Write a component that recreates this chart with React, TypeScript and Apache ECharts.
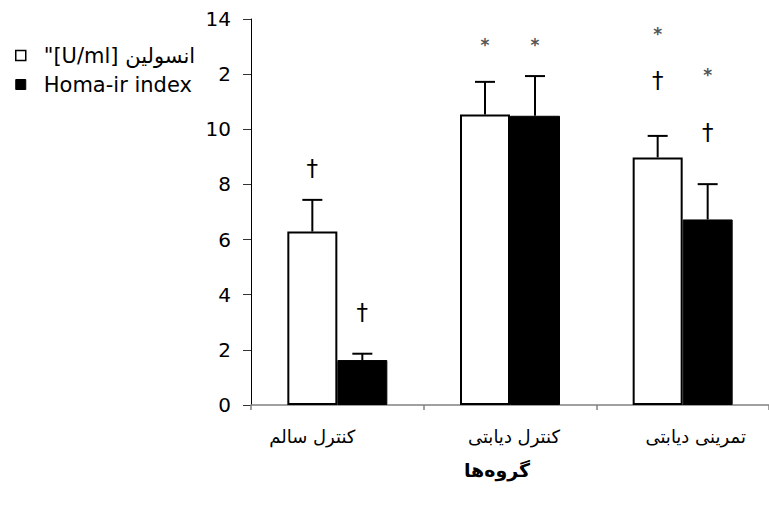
import React, { useEffect, useRef } from "react";
import * as echarts from "echarts";

// ---- data ----
const categories = ["کنترل سالم", "کنترل دیابتی", "تمرینی دیابتی"];
const seriesNames = ['"[U/ml] انسولین', "Homa-ir index"];
const insulin = [6.29, 10.54, 8.98];
const insulinErr = [1.15, 1.18, 0.78];
const homa = [1.63, 10.49, 6.73];
const homaErr = [0.23, 1.44, 1.28];
// [category index, symbol, y position in data units]
const insulinMarks: [number, string, number][] = [
  [0, "†", 8.6],
  [1, "*", 13.1],
  [2, "*", 13.5],
  [2, "†", 11.8],
];
const homaMarks: [number, string, number][] = [
  [0, "†", 3.37],
  [1, "*", 13.1],
  [2, "*", 12.0],
  [2, "†", 9.9],
];
const yTicks = { min: 0, max: 14, interval: 2 };
const xAxisName = "گروه‌ها";

// ---- style ----
const FONT = "DejaVu Sans";
const BAR_W = 50;

function errorSeries(values: number[], errs: number[], dir: number) {
  return {
    type: "custom",
    silent: true,
    z: 5,
    encode: { x: 0, y: [1, 2] },
    data: values.map((v, i) => [i, v, v + errs[i]]),
    renderItem: (params: any, api: any) => {
      const cat = api.value(0);
      const base = api.coord([cat, api.value(1)]);
      const hi = api.coord([cat, api.value(2)]);
      const x = base[0] + (dir * BAR_W) / 2;
      const st = { stroke: "#000", lineWidth: 2 };
      return {
        type: "group",
        children: [
          { type: "line", shape: { x1: x, y1: base[1], x2: x, y2: hi[1] }, style: st },
          { type: "line", shape: { x1: x - 10, y1: hi[1], x2: x + 10, y2: hi[1] }, style: st },
        ],
      };
    },
  };
}

function markSeries(marks: [number, string, number][], dir: number) {
  return {
    type: "custom",
    silent: true,
    z: 6,
    encode: { x: 0, y: 1 },
    data: marks.map((m) => [m[0], m[2]]),
    renderItem: (params: any, api: any) => {
      const p = api.coord([api.value(0), api.value(1)]);
      const sym = marks[params.dataIndex][1];
      const isStar = sym === "*";
      return {
        type: "text",
        x: p[0] + (dir * BAR_W) / 2,
        y: p[1] + (isStar ? 1 : 0),
        style: {
          text: sym,
          fontFamily: FONT,
          fontSize: isStar ? 17 : 23,
          fontWeight: isStar ? "bold" : "normal",
          fill: isStar ? "#555" : "#000",
          align: "center",
          verticalAlign: "middle",
        },
      };
    },
  };
}

export default function App() {
  const ref = useRef<HTMLDivElement>(null);
  useEffect(() => {
    if (!ref.current) return;
    const chart = echarts.init(ref.current, null, { renderer: "svg" });
    chart.setOption({
      animation: false,
      backgroundColor: "#fff",
      textStyle: { fontFamily: FONT },
      grid: { left: 251, top: 19, width: 528, height: 386, containLabel: false },
      legend: {
        orient: "vertical",
        left: 0,
        top: 37,
        z: 10,
        backgroundColor: "#fff",
        padding: [8, 4, 6, 15],
        itemGap: 8,
        itemWidth: 10,
        itemHeight: 10,
        icon: "rect",
        selectedMode: false,
        data: [
          { name: seriesNames[0], itemStyle: { color: "#fff", borderColor: "#000", borderWidth: 1.5 } },
          { name: seriesNames[1], itemStyle: { color: "#000", borderColor: "#000", borderWidth: 1 } },
        ],
        textStyle: {
          fontFamily: FONT,
          fontSize: 21,
          color: "#000",
          lineHeight: 20,
          padding: [0, 0, 0, 13],
          width: 170,
        },
      },
      xAxis: {
        type: "category",
        data: categories,
        name: xAxisName,
        nameLocation: "middle",
        nameGap: 55,
        nameTextStyle: {
          fontFamily: FONT,
          fontSize: 19,
          fontWeight: "bold",
          color: "#000",
          padding: [0, 26, 0, 0],
        },
        axisLine: { lineStyle: { color: "#808080", width: 1.5 } },
        axisTick: { show: true, length: 5, lineStyle: { color: "#808080", width: 1.5 } },
        axisLabel: {
          interval: 0,
          margin: 22,
          color: "#000",
          fontFamily: FONT,
          fontSize: 18,
          formatter: (v: string, i: number) =>
            (i === 0 ? "{a|" : i === 2 ? "{c|" : "{b|") + v + "}",
          rich: {
            a: { fontFamily: FONT, fontSize: 18, color: "#000", padding: [0, 50, 0, 0] },
            b: { fontFamily: FONT, fontSize: 18, color: "#000", padding: [0, 0, 0, 8] },
            c: { fontFamily: FONT, fontSize: 18, color: "#000", padding: [0, 0, 0, 26] },
          },
        },
        splitLine: { show: false },
      },
      yAxis: {
        type: "value",
        min: yTicks.min,
        max: yTicks.max,
        interval: yTicks.interval,
        axisLine: { show: true, lineStyle: { color: "#000", width: 1 } },
        axisTick: { show: true, length: 8, lineStyle: { color: "#333", width: 1 } },
        axisLabel: { margin: 20, color: "#000", fontFamily: FONT, fontSize: 20 },
        splitLine: { show: false },
      },
      series: [
        {
          name: seriesNames[0],
          type: "bar",
          data: insulin,
          barWidth: BAR_W,
          barGap: "0%",
          itemStyle: { color: "#fff", borderColor: "#000", borderWidth: 2 },
          z: 3,
        },
        {
          name: seriesNames[1],
          type: "bar",
          data: homa,
          barWidth: BAR_W,
          barGap: "0%",
          itemStyle: { color: "#000", borderColor: "#000", borderWidth: 1 },
          z: 2,
        },
        errorSeries(insulin, insulinErr, -1),
        errorSeries(homa, homaErr, 1),
        markSeries(insulinMarks, -1),
        markSeries(homaMarks, 1),
      ],
    });
    return () => chart.dispose();
  }, []);
  return (
    <div
      ref={ref}
      style={{ position: "absolute", left: 0, top: 0, width: 769, height: 512 }}
    />
  );
}
